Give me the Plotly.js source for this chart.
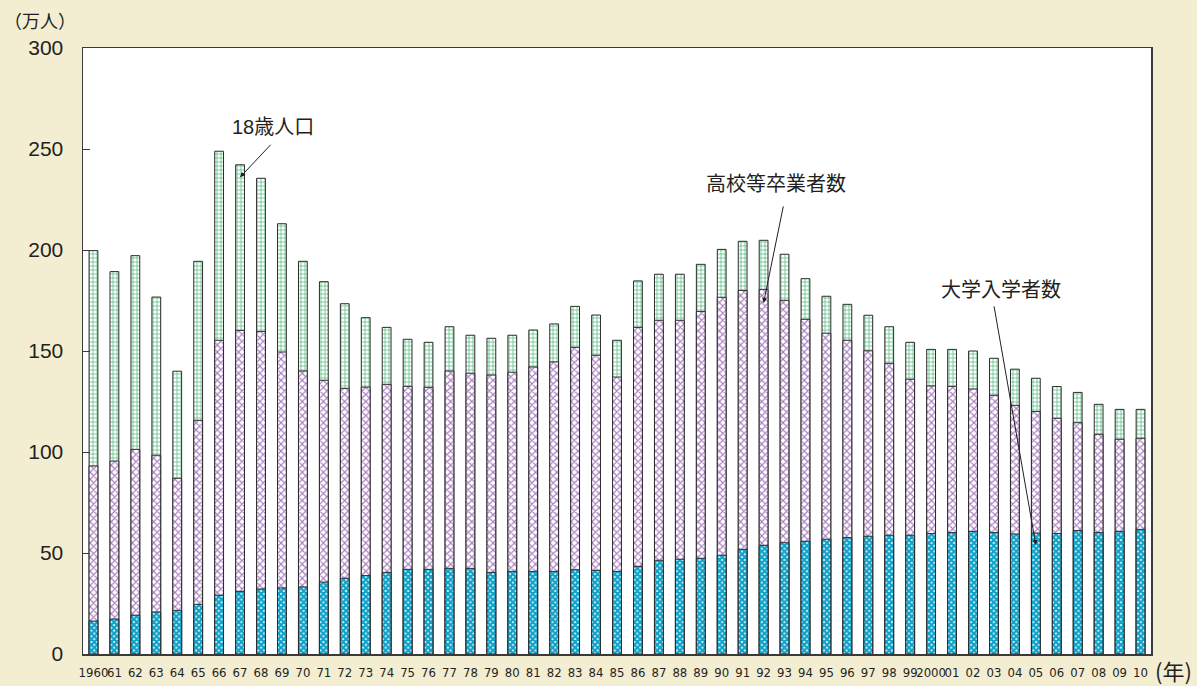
<!DOCTYPE html>
<html>
<head>
<meta charset="utf-8">
<script src="https://cdn.plot.ly/plotly-3.0.1.min.js"></script>
<style>html,body{margin:0;padding:0;background:#f3edd2;}#chart{width:1197px;height:686px;}</style>
</head>
<body>
<div id="chart"></div>
<script>
const years = [1960,1961,1962,1963,1964,1965,1966,1967,1968,1969,1970,1971,1972,1973,1974,1975,1976,1977,1978,1979,1980,1981,1982,1983,1984,1985,1986,1987,1988,1989,1990,1991,1992,1993,1994,1995,1996,1997,1998,1999,2000,2001,2002,2003,2004,2005,2006,2007,2008,2009,2010];
const yearLabels = ["1960","61","62","63","64","65","66","67","68","69","70","71","72","73","74","75","76","77","78","79","80","81","82","83","84","85","86","87","88","89","90","91","92","93","94","95","96","97","98","99","2000","01","02","03","04","05","06","07","08","09","10"];
const pop18 = [199.7,189.3,197.2,176.7,140.0,194.4,248.9,242.2,235.5,213.0,194.4,184.3,173.4,166.5,161.7,155.8,154.3,162.0,157.8,156.3,157.8,160.4,163.4,172.1,167.8,155.3,184.7,188.0,188.0,192.9,200.3,204.3,204.8,197.9,185.8,177.1,173.1,167.7,162.0,154.3,150.8,150.8,150.0,146.4,141.0,136.5,132.4,129.5,123.6,121.1,121.1];
const hsGrad = [93.1,95.5,101.3,98.4,87.0,115.7,155.3,160.2,159.7,149.5,140.1,135.5,131.5,132.1,133.5,132.5,132.0,140.1,139.0,138.1,139.5,142.1,144.6,151.8,147.9,137.1,161.7,165.2,165.2,169.6,176.6,180.0,180.5,175.1,165.7,158.8,155.3,150.1,143.9,136.0,132.7,132.5,131.2,128.1,123.1,120.0,116.7,114.5,108.8,106.3,106.8];
const univEnt = [16.3,17.3,19.2,20.8,21.6,24.6,29.1,31.0,32.2,32.7,33.2,35.6,37.5,38.8,40.4,41.9,41.9,42.4,42.4,40.4,40.9,40.9,40.9,41.7,41.4,40.9,43.4,46.4,46.9,47.4,48.9,51.8,53.8,55.1,55.8,56.8,57.6,58.3,58.8,58.8,59.6,60.1,60.7,60.1,59.4,59.9,59.7,61.1,60.2,60.7,61.7];
const seriesNames = ["18歳人口","高校等卒業者数","大学入学者数"];

const barW = 0.42;
const outline = {color:'#2b2b2b', width:1};
function tr(vals, name, fg, shape, size, solidity){
  return {
    type:'bar', x: years, y: vals, name: name, width: barW,
    marker:{color:'#ffffff', line: outline,
      pattern:{shape: shape, fgcolor: fg, bgcolor:'#ffffff', size: size, solidity: solidity, fillmode:'replace'}},
    hoverinfo:'x+y+name'
  };
}
const data = [
  tr(pop18, seriesNames[0], '#6cc490', '+', 4, 0.4),
  tr(hsGrad, seriesNames[1], '#a97cc0', 'x', 5, 0.4),
  tr(univEnt, seriesNames[2], '#0fa3cb', 'x', 4, 0.8)
];
const txtFont = {family:'Liberation Sans, Arial, Noto Sans CJK JP, sans-serif', size:20, color:'#231f20'};
const arrowCommon = {showarrow:true, arrowhead:2, arrowsize:1, arrowwidth:1, arrowcolor:'#231f20', text:'', xref:'x', yref:'y', axref:'pixel', ayref:'pixel'};
function label(x, y, text, font){
  return {xref:'paper', yref:'paper', x:x, y:y, xanchor:'center', yanchor:'middle', text:text, showarrow:false, font:font};
}
const layout = {
  width:1197, height:686,
  paper_bgcolor:'#f3edd2', plot_bgcolor:'#ffffff',
  margin:{l:83, r:46, t:48, b:32},
  barmode:'overlay', showlegend:false,
  xaxis:{range:[1959.5,2010.5], tickvals: years, ticktext: yearLabels, ticks:'', showgrid:false, zeroline:false,
    showline:true, linecolor:'#3a3a3a', linewidth:1.5, mirror:true, ticklabelstandoff:6,
    tickfont:{family:'Liberation Sans Narrow, DejaVu Sans Condensed, Arial Narrow, sans-serif', size:13, color:'#231f20'}, tickangle:0},
  yaxis:{range:[0,300], tickvals:[0,50,100,150,200,250,300], ticks:'inside', ticklen:7, tickcolor:'#3a3a3a', showgrid:false, zeroline:false,
    showline:true, linecolor:'#3a3a3a', linewidth:1.5, mirror:true, ticklabelstandoff:14,
    tickfont:{family:'Liberation Sans, Arial, sans-serif', size:21, color:'#231f20'}},
  annotations:[
    Object.assign({x:1967, y:236, ax:32, ay:-34}, arrowCommon),
    Object.assign({x:1992, y:173.8, ax:20, ay:-98}, arrowCommon),
    Object.assign({x:2005, y:54, ax:-42, ay:-240}, arrowCommon),
    label(0.178, 0.870, seriesNames[0], txtFont),
    label(0.649, 0.776, seriesNames[1], txtFont),
    label(0.860, 0.601, seriesNames[2], txtFont),
    label(-0.040, 1.046, '（万人）', {family:'Noto Sans CJK JP, sans-serif', size:18, color:'#231f20'}),
    label(1.0206, -0.026, '(年)', {family:'Noto Sans CJK JP, sans-serif', size:22, color:'#231f20'})
  ]
};
Plotly.newPlot('chart', data, layout, {displayModeBar:false, staticPlot:true});
</script>
</body>
</html>
